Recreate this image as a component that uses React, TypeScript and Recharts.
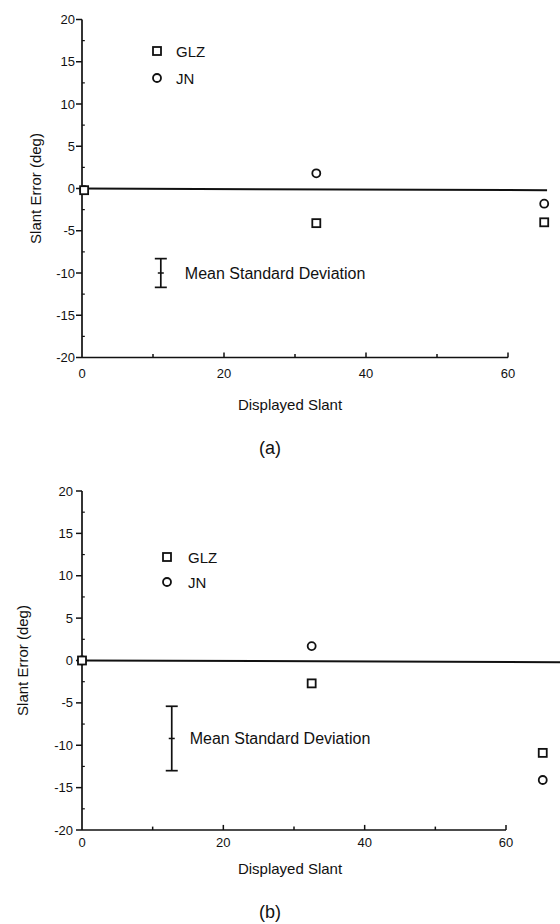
import {
  ScatterChart,
  Scatter,
  XAxis,
  YAxis,
  ErrorBar,
  ReferenceLine,
  Legend,
} from "recharts";

// values (x is where the mark sits on the axis)
const xA = [0.3, 33, 65.1];
const glzA = [-0.2, -4.1, -4.0];
const jnA = [-0.2, 1.8, -1.8];
const sdA = [{ x: 11.1, y: -10, err: 1.7 }];

const xB = [0, 32.5, 65.2];
const glzB = [0, -2.7, -10.9];
const jnB = [0, 1.7, -14.1];
const sdB = [{ x: 12.7, y: -9.2, err: 3.8 }];

const xTicks = [0, 20, 40, 60];
const yTicks = [-20, -15, -10, -5, 0, 5, 10, 15, 20];
const xMinor = [10, 20, 30, 40, 50, 60];
const yMinor = [-17.5, -12.5, -7.5, -2.5, 2.5, 7.5, 12.5, 17.5];

const INK = "#111";
const FONT = "'Liberation Sans', Arial, Helvetica, sans-serif";

const pts = (xs: number[], ys: number[]) => xs.map((x, i) => ({ x, y: ys[i] }));

const Square = (p: any) => (
  <rect x={p.cx - 4} y={p.cy - 4} width={8} height={8} fill="#fff" stroke={INK} strokeWidth={1.8} />
);
const Ring = (p: any) => <circle cx={p.cx} cy={p.cy} r={4} fill="#fff" stroke={INK} strokeWidth={1.8} />;

function YTitle({ viewBox, dx }: any) {
  const x = viewBox.x + dx;
  const y = viewBox.y + viewBox.height / 2;
  return (
    <text
      x={x}
      y={y}
      transform={`rotate(-90 ${x} ${y})`}
      textAnchor="middle"
      dominantBaseline="central"
      fontSize={15}
      fontFamily={FONT}
      fill={INK}
    >
      Slant Error (deg)
    </text>
  );
}

function XTitle({ viewBox, cx, t1, t2, tag }: any) {
  return (
    <g fontFamily={FONT} fill={INK} textAnchor="middle">
      <text x={cx} y={viewBox.y + t1} dominantBaseline="central" fontSize={15}>
        Displayed Slant
      </text>
      <text x={270} y={viewBox.y + t2} dominantBaseline="central" fontSize={18}>
        {tag}
      </text>
    </g>
  );
}

function Panel({ top, height, mt, mb, mr, xs, glz, jn, sd, zeroEnd, yTitleX, yTickMargin, xTickMargin, t1, t2, tag, legendPos, rowGap, textDx, sdTextDx }: any) {
  const legendContent = (props: any) => (
    <svg width={90} height={rowGap + 24}>
      {(props.payload || [])
        .filter((e: any) => e.value === "GLZ" || e.value === "JN")
        .map((e: any, i: number) => {
          const cy = 11 + i * rowGap;
          return (
            <g key={e.value}>
              {e.value === "GLZ" ? <Square cx={7} cy={cy} /> : <Ring cx={7} cy={cy} />}
              <text x={textDx} y={cy} dominantBaseline="central" fontSize={15} fontFamily={FONT} fill={INK}>
                {e.value}
              </text>
            </g>
          );
        })}
    </svg>
  );

  const SdMark = (p: any) => (
    <g>
      <line x1={p.cx - 3} x2={p.cx + 3} y1={p.cy} y2={p.cy} stroke={INK} strokeWidth={1.5} />
      <text x={p.cx + sdTextDx} y={p.cy} dominantBaseline="central" fontSize={16} fontFamily={FONT} fill={INK}>
        Mean Standard Deviation
      </text>
    </g>
  );

  return (
    <div style={{ position: "absolute", left: 0, top, width: 560, height }}>
      <ScatterChart width={560} height={height} margin={{ top: mt, right: mr, bottom: mb, left: 0 }}>
        <XAxis
          type="number"
          dataKey="x"
          domain={[0, 66]}
          ticks={xTicks}
          axisLine={false}
          tickLine={false}
          tickSize={0}
          tickMargin={xTickMargin}
          height={30}
          tick={{ fill: INK, fontSize: 13, fontFamily: FONT }}
          label={<XTitle cx={290} t1={t1} t2={t2} tag={tag} />}
        />
        <YAxis
          type="number"
          dataKey="y"
          domain={[-20, 20]}
          ticks={yTicks}
          width={82}
          axisLine={{ stroke: INK, strokeWidth: 1.7 }}
          tickLine={{ stroke: INK, strokeWidth: 1.5 }}
          tickSize={6}
          tickMargin={yTickMargin}
          tick={{ fill: INK, fontSize: 13, fontFamily: FONT }}
          label={<YTitle dx={yTitleX} />}
        />
        <ReferenceLine segment={[{ x: 0, y: -20 }, { x: 60, y: -20 }]} stroke={INK} strokeWidth={1.7} ifOverflow="visible" />
        {xMinor.map((v) => (
          <ReferenceLine
            key={"xm" + v}
            segment={[{ x: v, y: -20 }, { x: v, y: v % 20 === 0 ? -19.4 : -19.6 }]}
            stroke={INK}
            strokeWidth={1.5}
            ifOverflow="visible"
          />
        ))}
        {yMinor.map((v) => (
          <ReferenceLine
            key={"ym" + v}
            segment={[{ x: 0, y: v }, { x: 0.4, y: v }]}
            stroke={INK}
            strokeWidth={1.2}
            ifOverflow="visible"
          />
        ))}
        <ReferenceLine segment={[{ x: 0, y: 0 }, { x: zeroEnd, y: -0.2 }]} stroke={INK} strokeWidth={2} ifOverflow="visible" />
        <Scatter name="JN" data={pts(xs, jn)} shape={<Ring />} isAnimationActive={false} />
        <Scatter name="GLZ" data={pts(xs, glz)} shape={<Square />} isAnimationActive={false} />
        <Scatter name="sd" data={sd} shape={<SdMark />} legendType="none" isAnimationActive={false}>
          <ErrorBar dataKey="err" direction="y" width={6} stroke={INK} strokeWidth={1.7} isAnimationActive={false} />
        </Scatter>
        <Legend
          layout="horizontal"
          verticalAlign="middle"
          align="center"
          content={legendContent}
          wrapperStyle={{ left: legendPos[0], top: legendPos[1], width: 90 }}
        />
      </ScatterChart>
    </div>
  );
}

export default function App() {
  return (
    <div style={{ position: "absolute", left: 0, top: 0, width: 560, height: 924, background: "#fff" }}>
      <Panel
        top={0}
        height={460}
        mt={19.5}
        mb={72.5}
        mr={9.4}
        xs={xA}
        glz={glzA}
        jn={jnA}
        sd={sdA}
        zeroEnd={65.5}
        yTitleX={35}
        yTickMargin={1}
        xTickMargin={11}
        t1={46.5}
        t2={90.5}
        tag="(a)"
        legendPos={[150, 40]}
        rowGap={27}
        textDx={26}
        sdTextDx={24}
      />
      <Panel
        top={462}
        height={462}
        mt={29}
        mb={64}
        mr={11.6}
        xs={xB}
        glz={glzB}
        jn={jnB}
        sd={sdB}
        zeroEnd={68.5}
        yTitleX={22}
        yTickMargin={3}
        xTickMargin={8}
        t1={38}
        t2={82}
        tag="(b)"
        legendPos={[160, 84]}
        rowGap={25}
        textDx={28}
        sdTextDx={18}
      />
    </div>
  );
}
